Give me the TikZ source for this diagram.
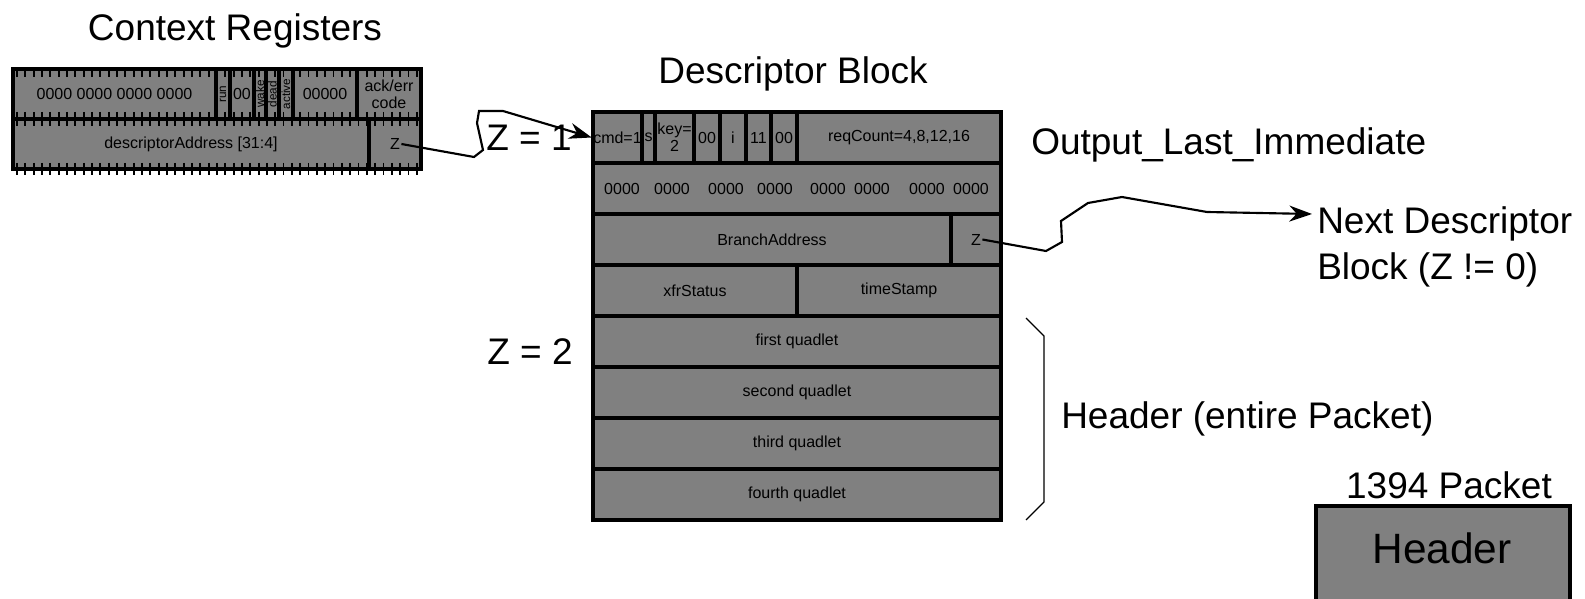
\documentclass[tikz,border=0pt]{standalone}
\usepackage{fontspec}
\setmainfont{Liberation Sans}
\usetikzlibrary{arrows.meta}
\definecolor{fieldgray}{RGB}{128,128,128}
\newcommand{\fieldbox}[7][]{\draw[fld] (#3,#4) rectangle (#5,#6) node[midway,#1] (#2) {#7};}

\begin{document}
\begin{tikzpicture}[
    x=0.75pt, y=-0.75pt,
    fld/.style={draw=black, line width=2.3pt, fill=fieldgray, inner sep=0pt,
        align=center, font=\fontsize{12pt}{12.75pt}\selectfont},
    vert/.style={rotate=90, font=\fontsize{8.8pt}{9pt}\selectfont},
    big/.style={inner sep=0pt, font=\fontsize{27.75pt}{34.5pt}\selectfont},
    tick/.style={line width=1.4pt},
    link/.style={line width=1.6pt, -{Stealth[length=17pt, width=12pt]}},
]
\useasboundingbox (0,0) rectangle (1585,599);

% context registers
\fieldbox{zeros}{13}{69}{216}{119}{0000 0000 0000 0000}
\fieldbox[vert]{run}{216}{69}{230}{119}{run}
\fieldbox{rsvd}{230}{69}{254}{119}{00}
\fieldbox[vert]{wake}{254}{69}{266}{119}{wake}
\fieldbox[vert]{dead}{266}{69}{279}{119}{dead}
\fieldbox[vert]{active}{279}{69}{293}{119}{active}
\fieldbox{rsvdb}{293}{69}{357}{119}{00000}
\fieldbox{ackerr}{357}{69}{421}{119}{ack/err\\code}
\fieldbox{descaddr}{13}{119}{369}{169}{descriptorAddress [31:4]}
\fieldbox{cz}{369}{119}{421}{169}{Z}
\foreach \x in {17,25.33,...,418} {
    \draw[tick] (\x,69) -- (\x,77);
    \draw[tick] (\x,112) -- (\x,126);
    \draw[tick] (\x,163) -- (\x,175);
}
\node[big, anchor=base] (ctxtitle) at (235,41) {Context Registers};

% descriptor block
\fieldbox{cmd}{593}{112}{642}{163}{cmd=1}
\fieldbox{sbit}{642}{112}{655}{163}{s}
\fieldbox{key}{655}{112}{694}{163}{key=\\2}
\fieldbox{rsvdc}{694}{112}{720}{163}{00}
\fieldbox{ibit}{720}{112}{746}{163}{i}
\fieldbox{bbit}{746}{112}{771}{163}{11}
\fieldbox{wbit}{771}{112}{797}{163}{00}
\fieldbox{reqcount}{797}{112}{1001}{163}{reqCount=4,8,12,16}
\fieldbox{skip}{593}{163}{1001}{214}{}
\foreach \x [count=\i] in {622,672,726,775,828,872,927,971}
    \node[font=\fontsize{12pt}{12.75pt}\selectfont] (skip\i) at (\x,189) {0000};
\fieldbox{branch}{593}{214}{951}{265}{BranchAddress}
\fieldbox{bz}{951}{214}{1001}{265}{Z}
\fieldbox{xfr}{593}{265}{797}{316}{xfrStatus}
\fieldbox{stamp}{797}{265}{1001}{316}{timeStamp}
\fieldbox{quada}{593}{316}{1001}{367}{first quadlet}
\fieldbox{quadb}{593}{367}{1001}{418}{second quadlet}
\fieldbox{quadc}{593}{418}{1001}{469}{third quadlet}
\fieldbox{quadd}{593}{469}{1001}{520}{fourth quadlet}
\node[big, anchor=base] (desctitle) at (793,84) {Descriptor Block};
\node[big, anchor=base] (zone) at (529,151) {Z = 1};
\node[big, anchor=base] (ztwo) at (530,364) {Z = 2};
\node[big, anchor=base west] (mode) at (1031,155) {Output\_Last\_Immediate};
\node[big, anchor=base west, align=left] (nextblk) at (1317,279) {Next Descriptor\\Block (Z != 0)};
\node[big, anchor=base west] (hdrlabel) at (1061,428) {Header (entire Packet)};
\draw[line width=1pt] (1026,318) -- (1044,336) -- (1044,502) -- (1026,520);

% 1394 packet
\draw[fld] (1316,506) rectangle (1570,606);
\node[big, anchor=base] (pkttitle) at (1449,498) {1394 Packet};
\node[inner sep=0pt, anchor=base, font=\fontsize{31.8pt}{36pt}\selectfont] (hdr) at (1442,563) {Header};

\coordinate (nexttip) at (1312,214);
\draw[link] (cz.east) -- (474,157) -- (483,150) -- (477,123) -- (479,111) -- (503,111) -- (cmd.west);
\draw[link] (bz.east) -- (1046,251) -- (1062,242) -- (1061,221) -- (1088,203) -- (1122,197) -- (1207,212) -- (nexttip);
\end{tikzpicture}
\end{document}
